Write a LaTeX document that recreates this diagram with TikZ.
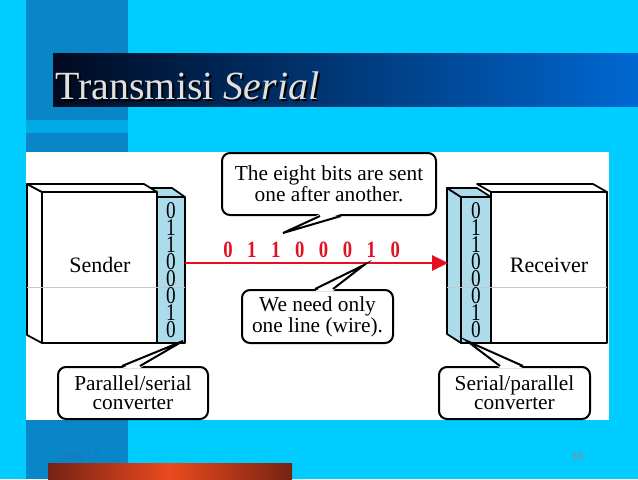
\documentclass[tikz,border=0pt]{standalone}
\usepackage{fontspec}
\setmainfont{Liberation Serif}
\newfontfamily\narrowserif[FakeStretch=0.8]{Liberation Serif}
\usetikzlibrary{arrows.meta}
\definecolor{slidebg}{RGB}{0,204,255}
\definecolor{stripblue}{RGB}{8,134,200}
\definecolor{stripband}{RGB}{0,170,230}
\definecolor{titledark}{RGB}{0,10,32}
\definecolor{titleblue}{RGB}{0,104,210}
\definecolor{colblue}{RGB}{172,220,236}
\definecolor{bitred}{RGB}{228,16,32}
\definecolor{barbrown}{RGB}{118,34,20}
\definecolor{barorange}{RGB}{234,74,30}
\definecolor{datetext}{RGB}{40,110,190}
\begin{document}
\begin{tikzpicture}[x=0.75pt, y=-0.75pt,
  face/.style={draw, line width=1.3pt, line join=round, fill=white},
  colface/.style={draw, line width=1.3pt, line join=round, fill=colblue},
  note/.style={draw, line width=1.5pt, fill=white, rounded corners=6pt, align=center, inner sep=0pt, font=\fontsize{16}{14.5}\selectfont},
  colbits/.style={anchor=north, inner sep=0pt, align=center, font=\narrowserif\fontsize{18}{12.83}\selectfont},
  redbit/.style={inner sep=0pt, text=bitred, font=\narrowserif\fontsize{17.5}{17.5}\selectfont\bfseries},
  tailedge/.style={line width=1.5pt, line join=miter}]
\useasboundingbox (0,0) rectangle (638,479);
% slide background
\fill[slidebg] (0,0) rectangle (638,479);
\fill[stripblue] (26,0) rectangle (128,152);
\fill[stripband] (26,120) rectangle (128,133);
\shade[left color=titledark, right color=titleblue] (53,53) rectangle (638,106);
\node[anchor=base west, inner sep=0pt, text=black, font=\fontsize{30}{30}\selectfont] at (57,101) {Transmisi \textit{Serial}};
\node[anchor=base west, inner sep=0pt, text=black!12, font=\fontsize{30}{30}\selectfont] (title) at (55,99) {Transmisi \textit{Serial}};
\fill[white] (26,152) rectangle (609,420);
\fill[stripblue] (26,420) rectangle (128,479);
\shade[left color=barbrown, right color=barbrown, middle color=barorange] (48,463) rectangle (292,479);
\node[text=datetext, inner sep=0pt, font=\fontsize{9}{9}\selectfont] (date) at (77,456) {12/04/13};
\node[text=black!45, inner sep=0pt, font=\fontsize{9}{9}\selectfont] (page) at (577,457) {38};
% sender column, then sender box
\draw[colface] (144,188) -- (172,188) -- (185,197) -- (157,197) -- cycle;
\draw[colface] (157,197) rectangle (185,343);
\draw[face] (27,184) -- (42,192) -- (42,343) -- (27,335) -- cycle;
\draw[face] (27,184) -- (144,184) -- (157,192) -- (42,192) -- cycle;
\draw[face] (42,192) rectangle (157,343);
% receiver box, then receiver column
\draw[face] (477,184) -- (593,184) -- (607,192) -- (491,192) -- cycle;
\draw[face] (491,192) rectangle (607,343);
\draw[colface] (447,188) -- (461,197) -- (461,343) -- (447,334) -- cycle;
\draw[colface] (447,188) -- (477,188) -- (491,197) -- (461,197) -- cycle;
\draw[colface] (461,197) rectangle (491,343);
% faint scan line
\draw[black!22, line width=0.5pt] (27,287) -- (185,287);
\draw[black!22, line width=0.5pt] (447,287) -- (607,287);
\node[inner sep=0pt, font=\fontsize{16.5}{16.5}\selectfont] (sender) at (100,265) {Sender};
\node[inner sep=0pt, font=\fontsize{16.5}{16.5}\selectfont] (receiver) at (549,265) {Receiver};
% bits in both converters
\node[colbits] (sbits) at (171,202) {0\\1\\1\\0\\0\\0\\1\\0};
\node[colbits] (rbits) at (476,202) {0\\1\\1\\0\\0\\0\\1\\0};
% the one wire
\coordinate (sout) at (185,263);
\coordinate (rin) at (448,263);
\draw[bitred, line width=1.6pt, -{Triangle[length=12pt, width=11.5pt]}] (sout) -- (rin);
\foreach \b [count=\i] in {0,1,1,0,0,0,1,0}
  \node[redbit] (wb\i) at ({228+23.9*(\i-1)},250) {\b};
% callouts
\node[note, minimum width=160.5pt, minimum height=46.5pt] (note1) at (329,184) {The eight bits are sent\\one after another.};
\node[note, minimum width=113.25pt, minimum height=39.75pt] (note2) at (317.5,316.5) {We need only\\one line (wire).};
\node[note, minimum width=112.5pt, minimum height=39pt] (conv1) at (133,393) {Parallel/serial\\converter};
\node[note, minimum width=113.25pt, minimum height=39pt] (conv2) at (514.5,393) {Serial/parallel\\converter};
\coordinate (tip1) at (283,233);
\coordinate (tip2) at (364,265);
\coordinate (tip3) at (183,341);
\coordinate (tip4) at (467,341);
\foreach \n/\side/\a/\b/\t/\s in {note1/south/320/341/tip1/1.6, note2/north/315/333/tip2/-1.6, conv1/north/122/140/tip3/-1.6, conv2/north/500/523/tip4/-1.6} {
  \coordinate (ba) at (\a,0 |- \n.\side);
  \coordinate (bb) at (\b,0 |- \n.\side);
  \fill[white] ([yshift=\s pt]ba) -- (\t) -- ([yshift=\s pt]bb) -- cycle;
  \draw[tailedge] (ba) -- (\t) -- (bb);
}
\end{tikzpicture}
\end{document}
